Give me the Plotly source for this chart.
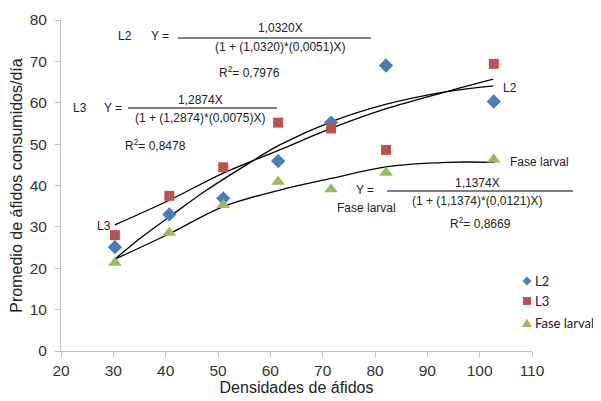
import plotly.graph_objects as go

# ---- data (x positions as drawn on the axis) ----
dens = [30.3, 40.7, 51.0, 61.5, 71.6, 82.1, 102.7]
l2_vals = [25.1, 33.0, 36.9, 45.9, 55.2, 69.0, 60.3]
l3_vals = [28.0, 37.5, 44.4, 55.2, 53.8, 48.6, 69.4]
larval_vals = [21.3, 28.6, 35.3, 40.9, 39.1, 43.1, 46.3]

# fitted curves
l2_fit_x = [30.3, 35.5, 40.8, 47.5, 54.8, 61.8, 71.6, 82.0, 93.7, 102.6]
l2_fit_y = [22.2, 27.6, 32.5, 38.6, 44.5, 49.8, 55.4, 59.6, 62.7, 64.1]
l3_fit_x = [30.3, 40.8, 51.0, 61.8, 71.6, 82.0, 93.7, 102.6]
l3_fit_y = [30.5, 36.5, 43.0, 48.6, 53.8, 58.5, 62.7, 65.7]
lar_fit_x = [30.3, 40.8, 51.0, 61.8, 71.6, 82.1, 93.7, 102.8]
lar_fit_y = [22.2, 28.4, 34.9, 38.9, 41.7, 44.5, 45.6, 45.6]

x_ticks = [20, 30, 40, 50, 60, 70, 80, 90, 100, 110]
y_ticks = [0, 10, 20, 30, 40, 50, 60, 70, 80]

series_names = ["L2", "L3", "Fase larval"]
series_colors = ["#4A7EBB", "#C0504D", "#9BBB59"]
series_symbols = ["diamond", "square", "triangle-up"]

# page body margin offsets the figure by 8 px in the browser window
OFF = 8
W, H = 601 - OFF, 401 - OFF
ML, MR, MT, MB = 61 - OFF, 69, 20 - OFF, 50
PW, PH = W - ML - MR, H - MT - MB


def px(x):  # x in window pixels -> paper
    return (x - OFF - ML) / PW


def py(y):  # y in window pixels -> paper
    return (H + OFF - MB - y) / PH


fig = go.Figure()

line_style = dict(color="black", width=1.3, shape="spline")
for fx, fy in [(l2_fit_x, l2_fit_y), (l3_fit_x, l3_fit_y), (lar_fit_x, lar_fit_y)]:
    fig.add_trace(go.Scatter(x=fx, y=fy, mode="lines", line=line_style,
                             showlegend=False, hoverinfo="skip"))

marker_sizes = [11, 10, 12]
for vals, name, col, sym, sz in zip([l2_vals, l3_vals, larval_vals], series_names,
                                     series_colors, series_symbols, marker_sizes):
    fig.add_trace(go.Scatter(x=dens, y=vals, mode="markers", name=name, showlegend=False,
                             marker=dict(symbol=sym, size=sz, color=col)))

# ---- hand-built legend (compact, like the reference) ----
leg_x, leg_rows = 527, [281, 301, 323]


def pt(x, y):
    return f"{px(x):.5f},{py(y):.5f}"


glyph_paths = [
    lambda cx, cy: f"M {pt(cx, cy-4.5)} L {pt(cx+4.5, cy)} L {pt(cx, cy+4.5)} L {pt(cx-4.5, cy)} Z",
    lambda cx, cy: f"M {pt(cx-4, cy-4)} L {pt(cx+4, cy-4)} L {pt(cx+4, cy+4)} L {pt(cx-4, cy+4)} Z",
    lambda cx, cy: f"M {pt(cx, cy-4.5)} L {pt(cx+5, cy+4)} L {pt(cx-5, cy+4)} Z",
]
for name, col, gp, ry in zip(series_names, series_colors, glyph_paths, leg_rows):
    fig.add_shape(type="path", xref="paper", yref="paper", path=gp(leg_x, ry),
                  fillcolor=col, line=dict(width=0))
    fig.add_annotation(x=px(leg_x + 6), y=py(ry), xref="paper", yref="paper", text=name,
                       showarrow=False, xanchor="left", yanchor="middle",
                       font=dict(family="Lato, Open Sans", size=13, color="#222"))

font_eq = dict(family="Liberation Sans, Arial", size=12, color="#222")


def ann(x, y, text, xanchor="center"):
    fig.add_annotation(x=px(x), y=py(y), xref="paper", yref="paper", text=text,
                       showarrow=False, font=font_eq, xanchor=xanchor, yanchor="middle")


def frac_line(x0, x1, y):
    fig.add_shape(type="line", xref="paper", yref="paper", x0=px(x0), x1=px(x1),
                  y0=py(y), y1=py(y), line=dict(color="black", width=1))


# L2 equation
ann(125, 36, "L2")
ann(160, 36, "Y =")
ann(280, 28, "1,0320X")
frac_line(178, 371, 38)
ann(280, 47, "(1 + (1,0320)*(0,0051)X)")
ann(249, 72, "R<sup>2</sup>= 0,7976")

# L3 equation
ann(80, 108, "L3")
ann(113, 108, "Y =")
ann(200, 100, "1,2874X")
frac_line(128, 277, 108)
ann(200, 118, "(1 + (1,2874)*(0,0075)X)")
ann(155, 145, "R<sup>2</sup>= 0,8478")

# Fase larval equation
ann(365, 190, "Y =")
ann(366, 208, "Fase larval")
ann(477, 183, "1,1374X")
frac_line(387, 573, 191)
ann(477, 201, "(1 + (1,1374)*(0,0121)X)")
ann(480, 223, "R<sup>2</sup>= 0,8669")

# curve labels
ann(501, 88, "L2", xanchor="left")
ann(508, 162, "Fase larval", xanchor="left")
ann(113, 226, "L3", xanchor="right")

axis_common = dict(showline=True, linecolor="#BFBFBF", linewidth=1, ticks="outside",
                   tickcolor="#BFBFBF", ticklen=5, showgrid=False, zeroline=False,
                   automargin=False,
                   tickfont=dict(family="Liberation Sans, Arial", size=15.5, color="#333"))

fig.update_xaxes(range=[20, 110], tickvals=x_ticks, **axis_common,
                 title=dict(text="Densidades de áfidos", standoff=3,
                            font=dict(family="Liberation Sans, Arial", size=16, color="#222")))
fig.update_yaxes(range=[0, 80], tickvals=y_ticks, ticklabelstandoff=5, **axis_common,
                 title=dict(text="Promedio de áfidos consumidos/día", standoff=6,
                            font=dict(family="Liberation Sans, Arial", size=16, color="#222")))

fig.update_layout(
    width=W, height=H,
    margin=dict(l=ML, r=MR, t=MT, b=MB),
    plot_bgcolor="white", paper_bgcolor="white",
    showlegend=False,
)

fig.write_html("out.html")
